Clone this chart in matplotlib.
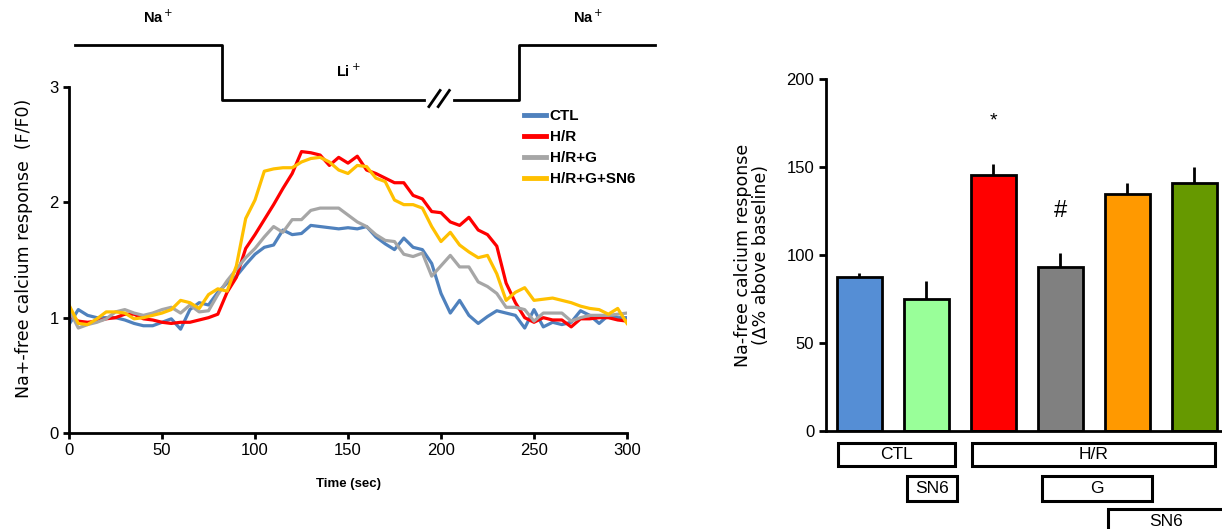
import matplotlib
matplotlib.use("Agg")
import matplotlib.pyplot as plt
from matplotlib.patches import Rectangle
from matplotlib.lines import Line2D
import numpy as np

plt.rcParams['font.family'] = ['Liberation Sans', 'DejaVu Sans']

# ---------------- data ----------------
time = list(range(0, 301, 5))
ctl = [0.94, 1.07, 1.02, 1.00, 1.00, 1.00, 0.98, 0.95, 0.93, 0.93, 0.96, 0.99, 0.90, 1.07,
       1.13, 1.11, 1.22, 1.30, 1.36, 1.46, 1.55, 1.61, 1.63, 1.76, 1.72, 1.73, 1.80, 1.79,
       1.78, 1.77, 1.78, 1.77, 1.79, 1.70, 1.64, 1.59, 1.69, 1.61, 1.59, 1.47, 1.21, 1.04,
       1.15, 1.02, 0.95, 1.01, 1.06, 1.04, 1.02, 0.91, 1.07, 0.92, 0.96, 0.94, 0.96, 1.06,
       1.02, 0.95, 1.02, 1.00, 1.00]
hr = [1.02, 0.97, 0.96, 0.97, 0.99, 1.00, 1.03, 1.03, 0.99, 0.98, 0.96, 0.95, 0.96, 0.96,
      0.98, 1.00, 1.03, 1.22, 1.35, 1.60, 1.72, 1.85, 1.98, 2.12, 2.25, 2.44, 2.43, 2.41,
      2.32, 2.39, 2.34, 2.40, 2.28, 2.25, 2.21, 2.17, 2.17, 2.06, 2.03, 1.92, 1.91, 1.83,
      1.80, 1.87, 1.76, 1.72, 1.62, 1.30, 1.13, 1.00, 0.96, 1.00, 0.98, 0.98, 0.92, 0.99,
      0.99, 1.00, 1.00, 0.98, 0.97]
hr_g = [1.07, 0.91, 0.94, 0.96, 0.99, 1.05, 1.07, 1.04, 1.02, 1.04, 1.07, 1.09, 1.04, 1.11,
        1.05, 1.06, 1.20, 1.32, 1.42, 1.52, 1.60, 1.70, 1.79, 1.74, 1.85, 1.85, 1.93, 1.95,
        1.95, 1.95, 1.89, 1.83, 1.79, 1.72, 1.67, 1.66, 1.55, 1.53, 1.56, 1.36, 1.45, 1.54,
        1.44, 1.44, 1.31, 1.27, 1.21, 1.09, 1.09, 1.07, 0.97, 1.04, 1.04, 1.04, 0.97, 1.00,
        1.02, 1.02, 1.02, 1.03, 1.04]
hr_g_sn6 = [1.11, 0.95, 0.94, 0.99, 1.05, 1.05, 1.04, 0.99, 1.00, 1.02, 1.04, 1.07, 1.15, 1.13,
            1.08, 1.20, 1.25, 1.23, 1.45, 1.86, 2.02, 2.27, 2.29, 2.30, 2.30, 2.35, 2.38, 2.39,
            2.35, 2.28, 2.25, 2.32, 2.31, 2.21, 2.18, 2.02, 1.98, 1.98, 1.95, 1.79, 1.66, 1.74,
            1.63, 1.57, 1.52, 1.54, 1.38, 1.15, 1.22, 1.26, 1.15, 1.16, 1.17, 1.15, 1.13, 1.10,
            1.08, 1.07, 1.03, 1.08, 0.95]
series_labels = ["CTL", "H/R", "H/R+G", "H/R+G+SN6"]
series_colors = ["#4F81BD", "#FF0000", "#A6A6A6", "#FFC000"]

bar_groups = ["CTL", "CTL+SN6", "H/R", "H/R+G", "H/R+G+SN6", "H/R+SN6"]
bar_means = [87.7, 74.8, 145.5, 93.3, 134.7, 141.0]
bar_errs = [2.3, 10.6, 6.2, 7.7, 6.0, 8.8]
bar_colors = ["#558ED5", "#99FF99", "#FF0000", "#808080", "#FF9900", "#669900"]
bar_marks = ["", "", "*", "#", "", ""]

# ---------------- figure ----------------
W, H = 1222, 529
fig = plt.figure(figsize=(W / 100, H / 100), dpi=100)

def fx(px):
    return px / W

def fy(py):
    return 1 - py / H

wide = ['DejaVu Sans']

# left axes
ax = fig.add_axes([fx(69), fy(433), fx(627) - fx(69), fy(87) - fy(433)])
for vals, lab, col in zip([ctl, hr, hr_g, hr_g_sn6], series_labels, series_colors):
    ax.plot(time, vals, color=col, lw=2.3, label=lab, solid_joinstyle='round')
ax.set_xlim(0, 300)
ax.set_ylim(0, 3)
ax.set_xticks(range(0, 301, 50))
ax.set_yticks([0, 1, 2, 3])
for s in ["top", "right"]:
    ax.spines[s].set_visible(False)
for s in ["left", "bottom"]:
    ax.spines[s].set_linewidth(2)
ax.tick_params(direction='out', length=4, width=2, labelsize=12)
ax.set_xlabel("Time (sec)", fontsize=9.5, fontweight='bold', labelpad=14)
ax.set_ylabel("Na+-free calcium response  (F/F0)", fontsize=12.5, labelpad=12,
              family=wide)
ax.yaxis.label.set_y(0.535)

handles = [Line2D([], [], color=c, lw=3.5) for c in series_colors]
leg = ax.legend(handles, series_labels, loc='upper left', bbox_to_anchor=(0.805, 0.953),
                frameon=False, handlelength=1.4, handletextpad=0.25, labelspacing=0.45,
                prop={'size': 11, 'weight': 'bold'}, borderaxespad=0)

# protocol line (solution exchange)
yt, yb = 3.36, 2.89
ax.plot([3, 82.3, 82.3, 191], [yt, yt, yb, yb], color='black', lw=2, clip_on=False)
ax.plot([207, 242, 242, 315], [yb, yb, yt, yt], color='black', lw=2, clip_on=False)
ax.plot([193.5, 199.5], [2.83, 2.97], color='black', lw=2, clip_on=False)
ax.plot([198.5, 204.5], [2.83, 2.97], color='black', lw=2, clip_on=False)
ax.text(47.8, 3.6, "Na$^+$", ha='center', va='center', fontsize=10.5, fontweight='bold')
ax.text(279, 3.6, "Na$^+$", ha='center', va='center', fontsize=10.5, fontweight='bold')
ax.text(150, 3.14, "Li$^+$", ha='center', va='center', fontsize=10.5, fontweight='bold')

# right axes
bx = fig.add_axes([fx(826), fy(431), fx(1221) - fx(826), fy(79) - fy(431)])
xpos = np.arange(len(bar_groups))
bx.bar(xpos, bar_means, width=0.67, color=bar_colors, edgecolor='black', linewidth=2,
       zorder=2)
bx.errorbar(xpos, bar_means, yerr=[[0] * len(bar_errs), bar_errs], fmt='none',
            ecolor='black', elinewidth=2, capsize=0, zorder=1)
for x, m, e, mk in zip(xpos, bar_means, bar_errs, bar_marks):
    if mk == "*":
        bx.text(x, 176, mk, ha='center', va='center', fontsize=14)
    elif mk == "#":
        bx.text(x, 125, mk, ha='center', va='center', fontsize=17)
bx.set_xlim(-0.5, 5.4)
bx.set_ylim(0, 200)
bx.set_yticks([0, 50, 100, 150, 200])
bx.set_xticks([])
for s in ["top", "right"]:
    bx.spines[s].set_visible(False)
for s in ["left", "bottom"]:
    bx.spines[s].set_linewidth(2)
bx.tick_params(direction='out', length=5, width=2, labelsize=12)
bx.set_ylabel("Na-free calcium response\n(\u0394% above baseline)", fontsize=12.5,
              labelpad=12, linespacing=1.0, family=wide)

# treatment boxes below the bar chart
boxes = [("CTL", 838, 955, 443, 466),
         ("H/R", 972, 1215, 443, 466),
         ("SN6", 907, 957, 476, 501),
         ("G", 1042, 1152, 476, 501),
         ("SN6", 1108, 1225, 509, 534)]
for lab, x0, x1, y0, y1 in boxes:
    fig.patches.append(Rectangle((fx(x0), fy(y1)), fx(x1) - fx(x0), fy(y0) - fy(y1),
                                 transform=fig.transFigure, fill=False,
                                 edgecolor='black', linewidth=2.2))
    fig.text(fx((x0 + x1) / 2), fy((y0 + y1) / 2), lab, ha='center', va='center',
             fontsize=12.5)

fig.savefig("out.png", dpi=100)
